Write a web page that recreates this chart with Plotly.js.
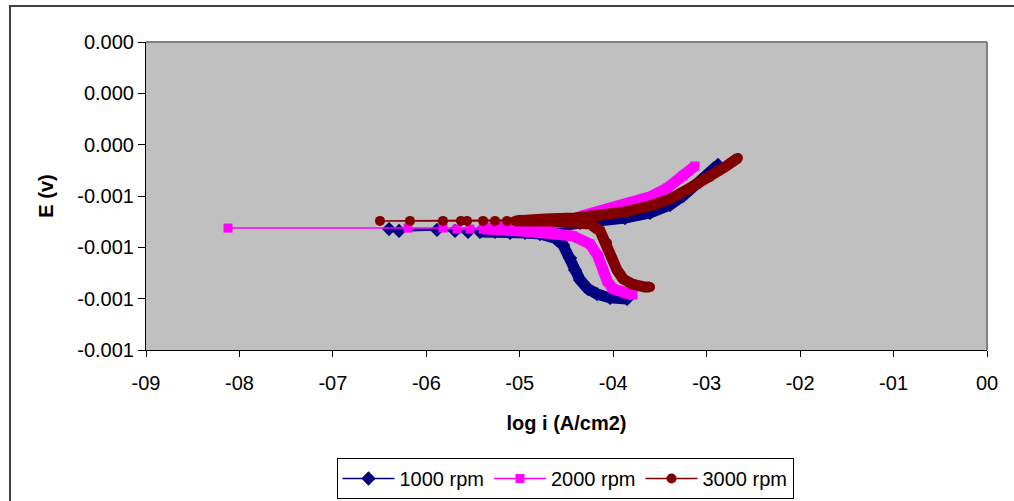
<!DOCTYPE html>
<html><head><meta charset="utf-8">
<script src="https://cdn.plot.ly/plotly-3.0.1.min.js"></script>
<style>html,body{margin:0;padding:0;background:#fff}#chart{width:1014px;height:501px}</style>
</head><body><div id="chart"></div>
<script>
// ---- data ----
const seriesNames = ['1000 rpm', '2000 rpm', '3000 rpm'];

// 1000 rpm: cathodic end -> corrosion spike (left) -> anodic end
const logI_1000 = [-3.852, -4.034, -4.173, -4.270, -4.355, -4.409, -4.462, -4.537, -4.623, -4.783,
  -4.944, -5.104, -5.265, -5.426, -5.554, -5.693, -5.886, -6.292, -6.399,
  -5.212, -4.890, -4.569, -4.355, -4.141, -3.874, -3.606, -3.392, -3.253, -3.071, -2.964, -2.879];
const E_1000 = [-0.001001, -0.000997, -0.000982, -0.000962, -0.000927, -0.000888, -0.000842, -0.000791, -0.000764, -0.000748,
  -0.000744, -0.000744, -0.000740, -0.000740, -0.000740, -0.000736, -0.000732, -0.000736, -0.000729,
  -0.000729, -0.000725, -0.000717, -0.000705, -0.000697, -0.000686, -0.000666, -0.000635, -0.000600, -0.000545, -0.000510, -0.000479];

// 2000 rpm
const logI_2000 = [-3.788, -3.852, -4.002, -4.066, -4.109, -4.163, -4.248, -4.430, -4.623, -4.783,
  -4.997, -5.212, -5.393, -5.533, -5.672, -5.822, -6.196, -8.122,
  -5.318, -4.997, -4.730, -4.516, -4.302, -4.141, -3.788, -3.606, -3.424, -3.253, -3.125];
const E_2000 = [-0.000986, -0.000982, -0.000962, -0.000931, -0.000888, -0.000834, -0.000787, -0.000756, -0.000748, -0.000740,
  -0.000736, -0.000732, -0.000729, -0.000729, -0.000729, -0.000725, -0.000725, -0.000725,
  -0.000725, -0.000721, -0.000713, -0.000701, -0.000674, -0.000658, -0.000627, -0.000603, -0.000569, -0.000522, -0.000483];

// 3000 rpm
const logI_3000 = [-3.606, -3.660, -3.799, -3.895, -3.960, -4.013, -4.066, -4.141, -4.248, -4.462,
  -4.676, -4.890, -5.051, -5.137, -5.265, -5.393, -5.565, -5.629, -5.822, -6.175, -6.496,
  -4.997, -4.730, -4.409, -4.141, -3.874, -3.606, -3.392, -3.178, -2.964, -2.804, -2.665];
const E_3000 = [-0.000955, -0.000955, -0.000943, -0.000923, -0.000888, -0.000842, -0.000783, -0.000736, -0.000709, -0.000701,
  -0.000697, -0.000697, -0.000697, -0.000697, -0.000697, -0.000697, -0.000697, -0.000697, -0.000697, -0.000697, -0.000697,
  -0.000693, -0.000690, -0.000686, -0.000678, -0.000662, -0.000639, -0.000612, -0.000569, -0.000526, -0.000487, -0.000452];

const xTickVals = [-9, -8, -7, -6, -5, -4, -3, -2, -1, 0];
const xTickText = ['-09', '-08', '-07', '-06', '-05', '-04', '-03', '-02', '-01', '00'];
const yTickVals = [0, -0.0002, -0.0004, -0.0006, -0.0008, -0.0010, -0.0012];
const yTickText = ['0.000', '0.000', '0.000', '-0.001', '-0.001', '-0.001', '-0.001'];

// ---- styling ----
const FONT = '"Liberation Sans", Arial, sans-serif';
const colors = ['#000080', '#FF00FF', '#800000'];
const symbols = ['diamond', 'square', 'circle'];
const msizes = [11, 9, 10];
const denseFrom = [-5.5, -5.45, -5.1]; // where the measured points overlap into a solid band

const xs = [logI_1000, logI_2000, logI_3000];
const ys = [E_1000, E_2000, E_3000];

const traces = [];
for (let i = 0; i < 3; i++) {
  const bx = [], by = [];
  xs[i].forEach((v, k) => { if (v > denseFrom[i]) { bx.push(v); by.push(ys[i][k]); } });
  traces.push({
    x: bx, y: by, type: 'scatter', mode: 'lines', showlegend: false, hoverinfo: 'skip',
    line: {color: colors[i], width: 11}
  });
  traces.push({
    x: xs[i], y: ys[i], type: 'scatter', mode: 'lines+markers', name: seriesNames[i],
    line: {color: colors[i], width: 1.5},
    marker: {color: colors[i], symbol: symbols[i], size: msizes[i], line: {width: 0}}
  });
}

const L = 146, R = 987, T = 42, B = 350, W = 1014, H = 501;
const px2x = p => (p - L) / (R - L);
const py2y = p => (B - p) / (B - T);

const layout = {
  width: W, height: H,
  margin: {l: L, r: W - R, t: T, b: H - B, pad: 0, autoexpand: false},
  paper_bgcolor: '#ffffff',
  plot_bgcolor: '#C0C0C0',
  font: {family: FONT, size: 20, color: '#000'},
  showlegend: true,
  legend: {
    orientation: 'h', x: px2x(565), xanchor: 'center', y: py2y(458), yanchor: 'top',
    bordercolor: '#000', borderwidth: 1, bgcolor: '#fff',
    font: {family: FONT, size: 20, color: '#000'},
    itemwidth: 52, tracegroupgap: 0
  },
  xaxis: {
    range: [-9, 0], tickmode: 'array', tickvals: xTickVals, ticktext: xTickText,
    showgrid: false, zeroline: false, showline: true, linecolor: '#000', linewidth: 1,
    ticks: 'outside', ticklen: 6, tickcolor: '#000', tickwidth: 1, ticklabelstandoff: 9,
    tickfont: {family: FONT, size: 20, color: '#000'},
    title: {text: '<b>log i (A/cm2)</b>', font: {family: FONT, size: 20, color: '#000'}, standoff: 22},
    automargin: false, fixedrange: true
  },
  yaxis: {
    range: [-0.0012, 0], tickmode: 'array', tickvals: yTickVals, ticktext: yTickText,
    showgrid: false, zeroline: false, showline: true, linecolor: '#000', linewidth: 1,
    ticks: 'outside', ticklen: 7, tickcolor: '#000', tickwidth: 1,
    tickfont: {family: FONT, size: 20, color: '#000'},
    title: {text: '<b>E (v)</b>', font: {family: FONT, size: 20, color: '#000'}, standoff: 18},
    automargin: false, fixedrange: true
  },
  shapes: [
    {type: 'line', xref: 'paper', yref: 'paper', x0: 0, x1: 1, y0: 1, y1: 1, line: {color: '#808080', width: 2}},
    {type: 'line', xref: 'paper', yref: 'paper', x0: 1, x1: 1, y0: 0, y1: 1, line: {color: '#808080', width: 2}},
    {type: 'rect', xref: 'paper', yref: 'paper', x0: px2x(10), x1: px2x(1040), y0: py2y(6), y1: py2y(540),
     line: {color: '#404040', width: 2}, fillcolor: 'rgba(0,0,0,0)', layer: 'below'}
  ]
};

Plotly.newPlot('chart', traces, layout, {staticPlot: true, displayModeBar: false});
</script>
</body></html>
